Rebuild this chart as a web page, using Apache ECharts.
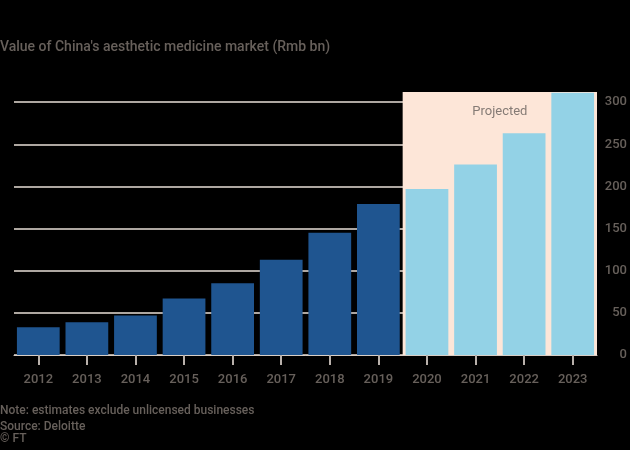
<!DOCTYPE html>
<html>
<head>
<meta charset="utf-8">
<script src="https://cdn.jsdelivr.net/npm/echarts@6/dist/echarts.min.js"></script>
<style>
html,body{margin:0;padding:0;background:#000;}
#chart{width:630px;height:450px;}
</style>
</head>
<body>
<div id="chart"></div>
<script>
const categories = ['2012','2013','2014','2015','2016','2017','2018','2019','2020','2021','2022','2023'];
const actualValues = [33, 39, 47, 67, 85, 113, 145, 179, null, null, null, null];
const projectedValues = [null, null, null, null, null, null, null, null, 197, 226, 263, 311];
const yTicks = [0, 50, 100, 150, 200, 250, 300];
const projectedStart = '2020';
const projectedEnd = '2023';
const titleText = "Value of China's aesthetic medicine market (Rmb bn)";
const noteText = "Note: estimates exclude unlicensed businesses";
const sourceText = "Source: Deloitte";
const creditText = "© FT";
const projectedLabel = "Projected";

const FONT = 'Roboto, "Noto Sans", sans-serif';
const TEXT = '#67605b';

// band index range for the projected shading (band edges on a hidden value axis)
const startIdx = categories.indexOf(projectedStart) - 0.5;
const endIdx = categories.indexOf(projectedEnd) + 0.5;

const chart = echarts.init(document.getElementById('chart'), null, {renderer: 'canvas'});
chart.setOption({
  backgroundColor: '#000',
  animation: false,
  textStyle: {fontFamily: FONT},
  title: [
    {text: titleText, left: 0, top: 40, padding: 0, textStyle: {fontSize: 14, fontWeight: 500, color: TEXT, fontFamily: FONT}},
    {text: noteText, left: 0, top: 405, padding: 0, textStyle: {fontSize: 12, fontWeight: 500, color: TEXT, fontFamily: FONT}},
    {text: sourceText, left: 0, top: 421, padding: 0, textStyle: {fontSize: 12, fontWeight: 500, color: TEXT, fontFamily: FONT}},
    {text: creditText, left: 0, top: 433, padding: 0, textStyle: {fontSize: 12, fontWeight: 500, color: TEXT, fontFamily: FONT}}
  ],
  grid: {left: 14, right: 32, top: 92, bottom: 95, containLabel: false},
  xAxis: [
    {
      type: 'category',
      data: categories,
      axisLine: {show: true, lineStyle: {color: '#d8cec6', width: 1}},
      axisTick: {show: true, alignWithLabel: true, length: 10, lineStyle: {color: '#b9b1ab', width: 2}},
      axisLabel: {color: TEXT, fontSize: 13, fontWeight: 500, margin: 18, fontFamily: FONT, interval: 0}
    },
    {
      type: 'value',
      min: -0.5,
      max: categories.length - 0.5,
      show: false
    }
  ],
  yAxis: {
    type: 'value',
    position: 'right',
    min: 0,
    max: 312,
    interval: 50,
    axisLine: {show: false},
    axisTick: {show: false},
    splitLine: {show: true, showMaxLine: false, lineStyle: {color: '#e9dfd7', width: 1.5}},
    axisLabel: {
      color: TEXT, fontSize: 13, fontWeight: 500, align: 'right', margin: 30, showMaxLabel: false, fontFamily: FONT,
      formatter: function (v) { return yTicks.indexOf(v) >= 0 ? String(v) : ''; }
    }
  },
  series: [
    {
      type: 'line',
      name: 'shade',
      xAxisIndex: 1,
      data: [[startIdx, 0]],
      symbol: 'none',
      showSymbol: false,
      lineStyle: {opacity: 0},
      silent: true,
      z: 1,
      markArea: {
        silent: true,
        itemStyle: {color: '#fde6d8'},
        label: {show: true, position: 'insideTop', distance: 13, color: '#857b75', fontSize: 13, fontFamily: FONT},
        data: [[{name: projectedLabel, xAxis: startIdx, yAxis: 312}, {xAxis: endIdx, yAxis: 0}]]
      }
    },
    {
      type: 'bar',
      name: 'Actual',
      stack: 'total',
      data: actualValues,
      barCategoryGap: '12%',
      clip: false,
      z: 3,
      itemStyle: {color: '#1f5590'}
    },
    {
      type: 'bar',
      name: 'Projected',
      stack: 'total',
      data: projectedValues,
      barCategoryGap: '12%',
      clip: false,
      z: 3,
      itemStyle: {color: '#93d2e6'}
    }
  ]
});
</script>
</body>
</html>
